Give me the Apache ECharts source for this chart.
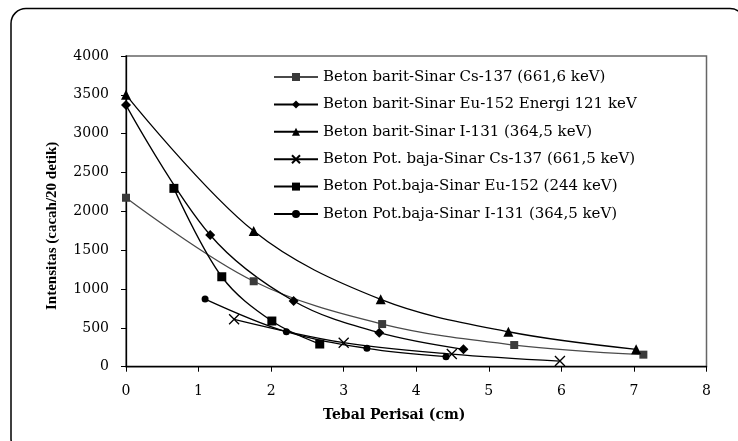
<!DOCTYPE html>
<html>
<head>
<meta charset="utf-8">
<script src="https://cdn.jsdelivr.net/npm/echarts@6/dist/echarts.min.js"></script>
<style>html,body{margin:0;padding:0;background:#fff}#c{width:738px;height:441px}</style>
</head>
<body>
<div id="c"></div>
<script>
// Data
const seriesNames = [
  'Beton barit-Sinar Cs-137 (661,6 keV)',
  'Beton barit-Sinar Eu-152 Energi 121 keV',
  'Beton barit-Sinar I-131 (364,5 keV)',
  'Beton Pot. baja-Sinar Cs-137 (661,5 keV)',
  'Beton Pot.baja-Sinar Eu-152 (244 keV)',
  'Beton Pot.baja-Sinar I-131 (364,5 keV)'
];
const baritCsX = [0, 1.76, 3.53, 5.35, 7.13];
const baritCsY = [2175, 1100, 549, 279, 155];
const baritEuX = [0, 1.16, 2.31, 3.49, 4.65];
const baritEuY = [3368, 1695, 846, 438, 224];
const baritIX = [0, 1.76, 3.51, 5.27, 7.03];
const baritIY = [3500, 1746, 867, 450, 224];
const bajaCsX = [1.49, 3.0, 4.49, 5.98];
const bajaCsY = [610, 309, 163, 73];
const bajaEuX = [0.66, 1.32, 2.01, 2.67];
const bajaEuY = [2296, 1158, 588, 292];
const bajaIX = [1.09, 2.21, 3.32, 4.41];
const bajaIY = [871, 450, 237, 129];
const xTicks = [0, 1, 2, 3, 4, 5, 6, 7, 8];
const yTicks = [0, 500, 1000, 1500, 2000, 2500, 3000, 3500, 4000];

const pairs = (xs, ys) => xs.map((x, i) => [x, ys[i]]);
const crossPath = 'path://M0,0L10,10M10,0L0,10';

const styles = [
  {symbol: 'rect', size: 8, color: '#3a3a3a', line: '#4a4a4a'},
  {symbol: 'diamond', size: 10, color: '#000', line: '#000'},
  {symbol: 'triangle', size: 10, color: '#000', line: '#000'},
  {symbol: crossPath, size: 10, color: '#000', line: '#000', cross: true},
  {symbol: 'rect', size: 9, color: '#000', line: '#000'},
  {symbol: 'circle', size: 7, color: '#000', line: '#000'}
];
const dataSets = [
  pairs(baritCsX, baritCsY), pairs(baritEuX, baritEuY), pairs(baritIX, baritIY),
  pairs(bajaCsX, bajaCsY), pairs(bajaEuX, bajaEuY), pairs(bajaIX, bajaIY)
];

const series = dataSets.map((d, i) => {
  const s = styles[i];
  return {
    name: seriesNames[i],
    type: 'line',
    data: d,
    smooth: 0.35,
    symbol: s.symbol,
    symbolSize: s.size,
    showAllSymbol: true,
    lineStyle: {color: s.line, width: 1.3},
    itemStyle: s.cross
      ? {color: 'rgba(0,0,0,0)', borderColor: '#000', borderWidth: 1.3}
      : {color: s.color, borderWidth: 0},
    emphasis: {disabled: true},
    animation: false
  };
});

const chart = echarts.init(document.getElementById('c'), null, {renderer: 'canvas'});
chart.setOption({
  backgroundColor: '#fff',
  animation: false,
  graphic: [{
    type: 'rect',
    shape: {x: 11, y: 8.5, width: 734, height: 445, r: 15},
    style: {fill: 'none', stroke: '#000', lineWidth: 1.5},
    z: 0
  }],
  grid: {
    left: 126, right: 31.5, top: 56, bottom: 74.3,
    show: true, borderColor: '#666', borderWidth: 1.5, backgroundColor: 'transparent'
  },
  legend: {
    orient: 'vertical',
    left: 268, top: 64.5,
    itemWidth: 44, itemHeight: 10, itemGap: 12.4,
    textStyle: {fontFamily: 'DejaVu Serif', fontSize: 15, color: '#000'},
    data: seriesNames,
    selectedMode: false
  },
  xAxis: {
    type: 'value', min: 0, max: 8, interval: 1,
    name: 'Tebal Perisai (cm)', nameLocation: 'middle', nameGap: 42,
    nameTextStyle: {fontFamily: 'DejaVu Serif', fontWeight: 'bold', fontSize: 14, color: '#000',
      padding: [0, 44, 0, 0]},
    axisLine: {show: true, onZero: false, lineStyle: {color: '#000', width: 1.3}},
    axisTick: {show: true, inside: false, length: 5, lineStyle: {color: '#000'}},
    axisLabel: {fontFamily: 'DejaVu Serif', fontSize: 14, color: '#000', margin: 18,
      formatter: v => String(v)},
    splitLine: {show: false}
  },
  yAxis: {
    type: 'value', min: 0, max: 4000, interval: 500,
    name: 'Intensitas (cacah/20 detik)', nameLocation: 'middle', nameGap: 66,
    nameTextStyle: {fontFamily: 'Liberation Serif', fontWeight: 'bold', fontSize: 15, color: '#000',
      padding: [0, 29, 0, 0]},
    axisLine: {show: true, onZero: false, lineStyle: {color: '#000', width: 1.3}},
    axisTick: {show: true, inside: false, length: 5, lineStyle: {color: '#000'}},
    axisLabel: {fontFamily: 'DejaVu Serif', fontSize: 14, color: '#000', margin: 17,
      formatter: v => String(v)},
    splitLine: {show: false}
  },
  series: series
});
</script>
</body>
</html>
